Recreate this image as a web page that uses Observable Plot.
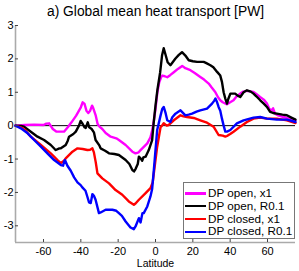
<!DOCTYPE html>
<html>
<head>
<meta charset="utf-8">
<script src="https://cdn.jsdelivr.net/npm/d3@7"></script>
<script src="https://cdn.jsdelivr.net/npm/@observablehq/plot@0.6"></script>
<style>
  html, body { margin: 0; padding: 0; background: #fff; }
  #wrap { position: relative; width: 299px; height: 271px; font-family: "Liberation Sans", Arial, sans-serif; }
  #legend { position: absolute; left: 183px; top: 182px; width: 112px; height: 57px; box-sizing: border-box;
            border: 1px solid #777; background: #fff; padding-top: 4px; }
  .row { height: 12.8px; line-height: 12.8px; font-size: 11.7px; white-space: nowrap; display: flex; align-items: center; color: #000; }
  .swatch { display: inline-block; width: 21px; height: 2.4px; margin-left: 1px; margin-right: 2px; }
</style>
</head>
<body>
<div id="wrap"></div>
<script>
// ---- data (latitude, PW) ----
const titleText = "a) Global mean heat transport [PW]";
const xLabel = "Latitude";
const xDomain = [-75, 75];
const yDomain = [-3.5, 3];
const xTicks = [-60, -40, -20, 0, 20, 40, 60];
const yTicks = [-3, -2, -1, 0, 1, 2, 3];
const seriesNames = ["DP open, x1", "DP open, R0.1", "DP closed, x1", "DP closed, R0.1"];
const seriesColors = ["#ff00ff", "#000000", "#ff0000", "#0000ff"];

const openX1 = [[-75,0],[-70,0.02],[-65,0.03],[-60,0.02],[-58.5,0.06],[-57,0.07],[-55,-0.1],[-53,-0.18],[-49,-0.18],[-47,-0.05],[-45,0.1],[-42.5,0.3],[-40,0.55],[-39,0.7],[-38,0.65],[-37,0.45],[-36,0.38],[-35,0.45],[-34,0.6],[-33.5,0.55],[-32,0.3],[-31,0.05],[-30,-0.03],[-28.5,-0.1],[-26.7,-0.22],[-24,-0.33],[-21,-0.38],[-19.6,-0.43],[-16,-0.58],[-12.4,-0.78],[-10.7,-0.83],[-9,-0.8],[-8,-0.73],[-6,-0.62],[-4.4,-0.53],[-2.7,-0.35],[-1.8,-0.15],[-1,0.1],[0,0.5],[1,1.0],[2,1.3],[3,1.45],[3.6,1.5],[5,1.48],[6.3,1.45],[8,1.52],[9.8,1.6],[12,1.7],[14.3,1.79],[16,1.72],[18.7,1.66],[21,1.58],[24,1.46],[26,1.38],[28.5,1.26],[30,1.15],[32,1.01],[33.5,0.85],[34.7,0.76],[36,0.7],[38.3,0.64],[40,0.7],[41.8,0.76],[43.5,0.88],[45.4,0.96],[47,1.02],[49,1.04],[52.5,1.01],[54,0.95],[56,0.86],[58,0.78],[59.7,0.66],[61,0.5],[62.3,0.46],[63,0.52],[64,0.36],[66,0.3],[68.5,0.26],[72,0.2],[75,0.16]];

const openR01 = [[-75,0],[-72,-0.01],[-70.4,-0.03],[-66.8,-0.18],[-63.2,-0.33],[-59.7,-0.43],[-56.1,-0.58],[-54,-0.7],[-53.4,-0.73],[-51.5,-0.68],[-50.7,-0.68],[-48.1,-0.58],[-47,-0.45],[-46.3,-0.33],[-44,-0.25],[-42.7,-0.18],[-41,0],[-40.1,0.14],[-39,0.05],[-38,-0.05],[-37.4,-0.07],[-36.3,0.1],[-35.5,-0.05],[-34.2,-0.1],[-33,-0.2],[-32.1,-0.43],[-30,-0.6],[-29.4,-0.68],[-27,-0.75],[-24.9,-0.83],[-22,-0.85],[-19.6,-0.88],[-16,-1.03],[-14,-1.15],[-12.4,-1.33],[-11.5,-1.37],[-10.7,-1.3],[-9.5,-1.15],[-8.9,-0.93],[-8,-0.98],[-7.1,-1.05],[-6.5,-0.95],[-5.3,-0.93],[-3.6,-0.73],[-1.8,-0.43],[-1,0.07],[0,0.6],[1,1.06],[2.5,1.6],[3.5,2.1],[4.4,2.32],[5.5,2.1],[6.5,1.9],[8,1.81],[10.7,2.01],[12.5,2.12],[14.2,2.2],[16,2.1],[17.8,1.96],[20,1.93],[22.3,1.91],[25.8,1.91],[27,1.88],[29.4,1.81],[31,1.75],[33,1.61],[34.7,1.5],[35.6,1.31],[36.5,1.0],[37.4,0.81],[38.3,0.66],[39,0.8],[40.1,0.96],[42.7,0.96],[44,0.9],[45.4,0.86],[47.2,1.0],[49,1.06],[51,1.02],[52.5,0.96],[54,0.88],[56.1,0.76],[58,0.66],[59.7,0.56],[61.4,0.41],[63,0.38],[65,0.36],[68,0.33],[70.4,0.31],[72.5,0.25],[75,0.18]];

const closedX1 = [[-75,0],[-72.1,-0.05],[-70,-0.12],[-66.8,-0.33],[-61.4,-0.58],[-56.1,-0.83],[-52.5,-1.03],[-50.7,-1.12],[-49,-1.05],[-48.1,-0.98],[-44.5,-0.78],[-41.8,-0.68],[-39,-0.7],[-36.5,-0.73],[-35,-0.72],[-33.8,-0.68],[-33,-0.8],[-32,-1.1],[-31.1,-1.43],[-28.5,-1.58],[-24.9,-1.73],[-21.4,-1.93],[-17.8,-2.07],[-14.3,-2.27],[-11.6,-2.37],[-10.7,-2.33],[-8.9,-2.22],[-5.3,-2.02],[-2.7,-1.87],[-1.5,-1.7],[-0.9,-1.43],[0.9,-0.63],[2.7,-0.05],[3.5,0.0],[4.4,0.07],[6,0.0],[7.1,0.02],[9.8,0.16],[13.4,0.31],[15,0.28],[16.9,0.26],[20.5,0.23],[24,0.16],[27.6,0.09],[31.1,-0.03],[33.8,-0.28],[36,-0.3],[37.4,-0.33],[38.3,-0.31],[40,-0.25],[41.8,-0.18],[45.4,-0.03],[49,0.11],[52.5,0.21],[56.1,0.24],[59.7,0.21],[65,0.21],[70.4,0.16],[75,0.08]];

const closedR01 = [[-75,0],[-72.1,-0.08],[-68.5,-0.23],[-65,-0.43],[-61.4,-0.63],[-57.9,-0.83],[-54.3,-1.03],[-50.7,-1.18],[-49.5,-1.2],[-49,-1.08],[-48.5,-1.03],[-47.2,-1.2],[-45.4,-1.35],[-43.6,-1.55],[-41.8,-1.7],[-40.1,-1.78],[-39.2,-1.85],[-37.5,-1.95],[-36.5,-2.13],[-35.6,-2.3],[-34.7,-2.32],[-33.8,-2.05],[-33,-2.1],[-32.1,-2.22],[-30.3,-2.62],[-29.4,-2.6],[-26.7,-2.52],[-23.1,-2.52],[-21,-2.55],[-19.6,-2.62],[-18,-2.7],[-16,-2.87],[-13.4,-3.05],[-11.6,-3.1],[-10.7,-3.02],[-8.9,-2.77],[-8,-2.9],[-7,-2.62],[-6.3,-2.62],[-4.4,-2.42],[-2.7,-2.12],[-1.8,-1.9],[-0.9,-1.33],[0.9,-0.13],[2.7,0.3],[3.6,0.5],[4.4,0.56],[5.3,0.4],[6.3,0.16],[8,0.11],[9,0.25],[10.7,0.36],[13.4,0.46],[16,0.31],[17.8,0.33],[19.6,0.36],[22,0.42],[24,0.46],[27.6,0.51],[30.3,0.66],[31.5,0.75],[32.1,0.81],[33,0.7],[33.8,0.56],[34.7,0.45],[35.6,0.21],[36.5,0.0],[37.4,-0.18],[38.3,-0.18],[40.1,-0.13],[43.6,0.07],[47.2,0.16],[52.5,0.24],[56.1,0.26],[59.7,0.21],[65,0.18],[70.4,0.18],[75,0.11]];

const seriesData = [openX1, openR01, closedX1, closedR01];

const chart = Plot.plot({
  width: 299,
  height: 271,
  marginLeft: 15,
  marginRight: 4,
  marginTop: 25,
  marginBottom: 29,
  style: { fontFamily: '"Liberation Sans", Arial, sans-serif', fontSize: "11px", background: "#fff", color: "#000" },
  x: { domain: xDomain },
  y: { domain: yDomain },
  marks: [
    Plot.ruleX([xDomain[0]], { stroke: "#aaa", strokeWidth: 1.6 }),
    Plot.ruleY([yDomain[0]], { stroke: "#aaa", strokeWidth: 1.6 }),
    Plot.ruleY([0], { stroke: "#000", strokeWidth: 1 }),
    ...seriesData.map((s, i) => Plot.line(s, { x: d => d[0], y: d => d[1], stroke: seriesColors[i], strokeWidth: 2.4, strokeLinejoin: "round" })),
    Plot.axisX({ ticks: xTicks, tickSize: -3, tickPadding: 8, tickFormat: d => String(d), fontSize: 11, stroke: "#444", label: null }),
    Plot.axisY({ ticks: yTicks, tickSize: -3, tickPadding: 5, tickFormat: d => String(d), fontSize: 11, stroke: "#444", label: null }),
    Plot.text([titleText], { text: d => d, frameAnchor: "top", dy: -14, lineAnchor: "middle", fontSize: 13.8 }),
    Plot.text([xLabel], { text: d => d, frameAnchor: "bottom", dy: 21.5, lineAnchor: "middle", fontSize: 10.5 })
  ]
});

const wrap = document.getElementById("wrap");
wrap.appendChild(chart);

const legend = document.createElement("div");
legend.id = "legend";
seriesNames.forEach((name, i) => {
  const row = document.createElement("div");
  row.className = "row";
  const sw = document.createElement("span");
  sw.className = "swatch";
  sw.style.background = seriesColors[i];
  const label = document.createElement("span");
  label.textContent = name;
  row.appendChild(sw);
  row.appendChild(label);
  legend.appendChild(row);
});
wrap.appendChild(legend);
</script>
</body>
</html>
